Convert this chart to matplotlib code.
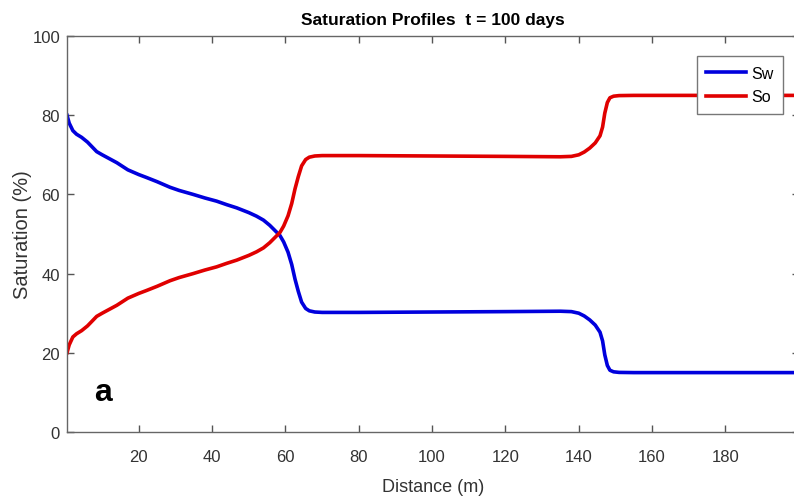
import matplotlib
matplotlib.use('Agg')
import matplotlib.pyplot as plt

# distance along the model (m)
dist = [0.4, 1, 2, 3, 4.4, 6, 8.5, 10, 12, 14, 17, 20, 22, 25, 28.5, 31, 34.8, 38,
        41.2, 44, 46.7, 50, 52.1, 54, 55.7, 57, 58.5, 59.5, 60.7, 61.7, 62.6, 63.5,
        64.4, 65.5, 66.5, 68, 70, 80, 100, 120, 135, 138, 140, 141.5, 143, 144.5,
        145.8, 146.5, 147.1, 147.8, 148.5, 149.5, 151, 155, 170, 200]

# water saturation (%)
sw = [80, 78, 76.1, 75.2, 74.4, 73.2, 70.8, 70.0, 69.0, 68.0, 66.2, 65.0, 64.3, 63.2,
      61.8, 61.0, 60.0, 59.1, 58.3, 57.4, 56.6, 55.4, 54.5, 53.5, 52.2, 51.0, 49.6,
      48.0, 45.4, 42.3, 38.6, 35.5, 32.8, 31.2, 30.6, 30.3, 30.2, 30.2, 30.3, 30.4,
      30.5, 30.4, 30.0, 29.3, 28.3, 27.0, 25.2, 23.0, 19.5, 16.8, 15.6, 15.2, 15.05,
      15, 15, 15]

# oil saturation (%)
so = [20, 22, 24, 24.8, 25.6, 26.8, 29.2, 30, 31, 32, 33.8, 35, 35.7, 36.8, 38.2,
      39, 40, 40.9, 41.7, 42.6, 43.4, 44.6, 45.5, 46.5, 47.8, 49, 50.4, 52, 54.6,
      57.7, 61.4, 64.5, 67.2, 68.8, 69.4, 69.7, 69.8, 69.8, 69.7, 69.6, 69.5, 69.6,
      70, 70.7, 71.7, 73, 74.8, 77, 80.5, 83.2, 84.4, 84.8, 84.95, 85, 85, 85]

xticks = [20, 40, 60, 80, 100, 120, 140, 160, 180]
yticks = [0, 20, 40, 60, 80, 100]

plt.rcParams['font.family'] = ['Liberation Sans', 'DejaVu Sans']

fig = plt.figure(figsize=(7.94, 5.02), dpi=100)
ax = fig.add_axes([67 / 794, 69 / 502, 731.7 / 794, 396 / 502])

ax.plot(dist, sw, color='#0000dd', lw=2.6, label='Sw')
ax.plot(dist, so, color='#e00000', lw=2.6, label='So')

ax.set_xlim(0.4, 200)
ax.set_ylim(0, 100)
ax.set_xticks(xticks)
ax.set_yticks(yticks)
ax.tick_params(direction='in', length=5, width=1, colors='#555555',
               labelcolor='#333333', labelsize=12, top=True, right=True)
ax.tick_params(axis='x', pad=12)
ax.tick_params(axis='y', pad=5)
for s in ax.spines.values():
    s.set_color('#666666')
    s.set_linewidth(1.0)

ax.set_xlabel('Distance (m)', fontsize=13, color='#333333', labelpad=10)
ax.set_ylabel('Saturation (%)', fontsize=14.5, color='#333333', labelpad=0)
ax.set_title('Saturation Profiles  t = 100 days', fontsize=12.5, fontweight='bold',
             pad=9)

leg = ax.legend(loc='upper right', bbox_to_anchor=(0.9786, 0.9495), borderaxespad=0,
                fontsize=11.5, handlelength=2.5, labelspacing=0.55, borderpad=0.6,
                fancybox=False, framealpha=1, handletextpad=0.3)
leg.get_frame().set_edgecolor('#777777')
leg.get_frame().set_linewidth(1.0)

ax.text(0.037, 0.1, 'a', transform=ax.transAxes, fontsize=23, fontweight='bold',
        va='center', ha='left', color='black')

fig.savefig('out.png', dpi=100)
